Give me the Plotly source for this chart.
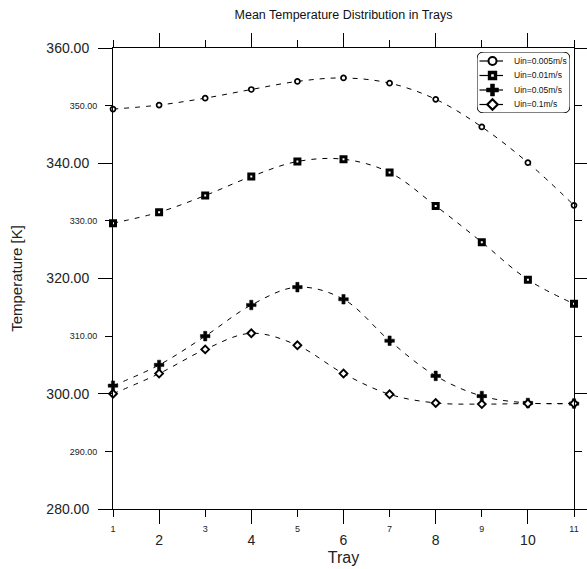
import plotly.graph_objects as go

trays = [1, 2, 3, 4, 5, 6, 7, 8, 9, 10, 11]
t_0005 = [349.4, 350.1, 351.3, 352.8, 354.2, 354.8, 353.9, 351.1, 346.3, 340.1, 332.7]
t_001 = [329.6, 331.5, 334.4, 337.7, 340.3, 340.7, 338.4, 332.6, 326.3, 319.8, 315.6]
t_005 = [301.4, 305.0, 310.0, 315.4, 318.5, 316.4, 309.2, 303.1, 299.6, 298.4, 298.3]
t_01 = [300.0, 303.5, 307.7, 310.5, 308.4, 303.5, 299.9, 298.4, 298.2, 298.3, 298.3]
names = ["Uin=0.005m/s", "Uin=0.01m/s", "Uin=0.05m/s", "Uin=0.1m/s"]

x_major = [2, 4, 6, 8, 10]
x_minor = [1, 3, 5, 7, 9, 11]
y_major = [280, 300, 320, 340, 360]
y_minor = [290, 310, 330, 350]

FONT = "Liberation Sans, Arial, sans-serif"
W, H = 587, 569
ML, MR, MT, MB = 113, 13, 48, 60
pw, ph = W - ML - MR, H - MT - MB

symbols = ["circle", "square", "cross", "diamond"]
fills = ["white", "white", "black", "white"]
sizes = [5, 5, 8, 6]
lwidths = [1.7, 3, 0.5, 1.9]
leg_sizes = [8, 6, 10, 8]
leg_lw = [2, 3.4, 0.5, 2.2]

fig = go.Figure()
for name, ys, sy, fc, sz, lw in zip(names, [t_0005, t_001, t_005, t_01], symbols, fills, sizes, lwidths):
    fig.add_trace(go.Scatter(
        x=trays, y=ys, name=name, mode="lines+markers", showlegend=False,
        line=dict(color="black", width=1, dash="5px,6px", shape="spline", smoothing=1),
        marker=dict(symbol=sy, size=sz, color=fc, line=dict(color="black", width=lw)),
        cliponaxis=False,
    ))

# minor-tick axes holder
fig.add_trace(go.Scatter(x=[1], y=[280], xaxis="x2", yaxis="y2", mode="markers",
                         marker=dict(opacity=0), showlegend=False, hoverinfo="skip"))

# custom compact legend on its own small axes (local pixel units)
box_x0, box_x1, box_y0, box_y1 = 477, 570, 52, 113
lw_box, lh_box = box_x1 - box_x0, box_y1 - box_y0
row_y = [9, 23.5, 38, 52.5]
for i, (name, sy, fc, sz, lw) in enumerate(zip(names, symbols, fills, leg_sizes, leg_lw)):
    fig.add_trace(go.Scatter(x=[2.5, 26], y=[row_y[i], row_y[i]], xaxis="x3", yaxis="y3",
                             mode="lines", line=dict(color="black", width=1.2),
                             showlegend=False, hoverinfo="skip"))
    fig.add_trace(go.Scatter(x=[15.5], y=[row_y[i]], xaxis="x3", yaxis="y3", mode="markers",
                             marker=dict(symbol=sy, size=sz, color=fc,
                                         line=dict(color="black", width=lw)),
                             showlegend=False, hoverinfo="skip"))
    fig.add_annotation(x=35, y=row_y[i], xref="x3", yref="y3", text=name, showarrow=False,
                       xanchor="left", yanchor="middle", font=dict(size=8.5, color="#111"))

ax_common = dict(showgrid=False, zeroline=False, ticks="outside", tickwidth=1,
                 tickcolor="black", mirror="ticks", automargin=False)

fig.update_layout(
    width=W, height=H,
    margin=dict(l=ML, r=MR, t=MT, b=MB),
    paper_bgcolor="white", plot_bgcolor="white",
    font=dict(family=FONT, color="#222"),
    showlegend=False,
    title=dict(text="Mean Temperature Distribution in Trays", x=(ML + (W - MR)) / 2 / W,
               xanchor="center", y=1 - 15 / H, yanchor="middle",
               font=dict(size=12.5, color="#111")),
    xaxis=dict(range=[1, 11], tickvals=x_major, ticktext=[str(v) for v in x_major],
               ticklen=14, tickfont=dict(size=14), showline=True, linecolor="black",
               linewidth=1, ticklabelstandoff=4,
               title=dict(text="Tray", font=dict(size=16), standoff=5),
               **ax_common),
    xaxis2=dict(range=[1, 11], overlaying="x", side="bottom", anchor="y",
                tickvals=x_minor, ticktext=[str(v) for v in x_minor], ticklabelstandoff=4,
                ticklen=7, tickfont=dict(size=9), showline=False, **ax_common),
    yaxis=dict(range=[280, 360], tickvals=y_major, ticktext=[f"{v:.2f}" for v in y_major],
               ticklen=14, tickfont=dict(size=14), showline=True, linecolor="black",
               linewidth=1, ticklabelstandoff=6,
               title=dict(text="Temperature [K]", font=dict(size=15), standoff=20),
               **ax_common),
    yaxis2=dict(range=[280, 360], overlaying="y", side="left", anchor="x",
                tickvals=y_minor, ticktext=[f"{v:.2f}" for v in y_minor],
                ticklen=7, tickfont=dict(size=9), showline=False, ticklabelstandoff=6,
                **ax_common),
    xaxis3=dict(domain=[(box_x0 - ML) / pw, (box_x1 - ML) / pw], range=[0, lw_box],
                anchor="y3", visible=False, fixedrange=True),
    yaxis3=dict(domain=[(H - MB - box_y1) / ph, (H - MB - box_y0) / ph], range=[lh_box, 0],
                anchor="x3", visible=False, fixedrange=True),
)

# rounded legend frame (decoration), drawn in the legend's local units
r = 7
path = (f"M {r} 0 L {lw_box - r} 0 Q {lw_box} 0 {lw_box} {r} L {lw_box} {lh_box - r} "
        f"Q {lw_box} {lh_box} {lw_box - r} {lh_box} L {r} {lh_box} Q 0 {lh_box} 0 {lh_box - r} "
        f"L 0 {r} Q 0 0 {r} 0 Z")
fig.add_shape(type="path", path=path, xref="x3", yref="y3",
              line=dict(color="black", width=1), fillcolor="white", layer="below")

fig.write_html("out.html")
